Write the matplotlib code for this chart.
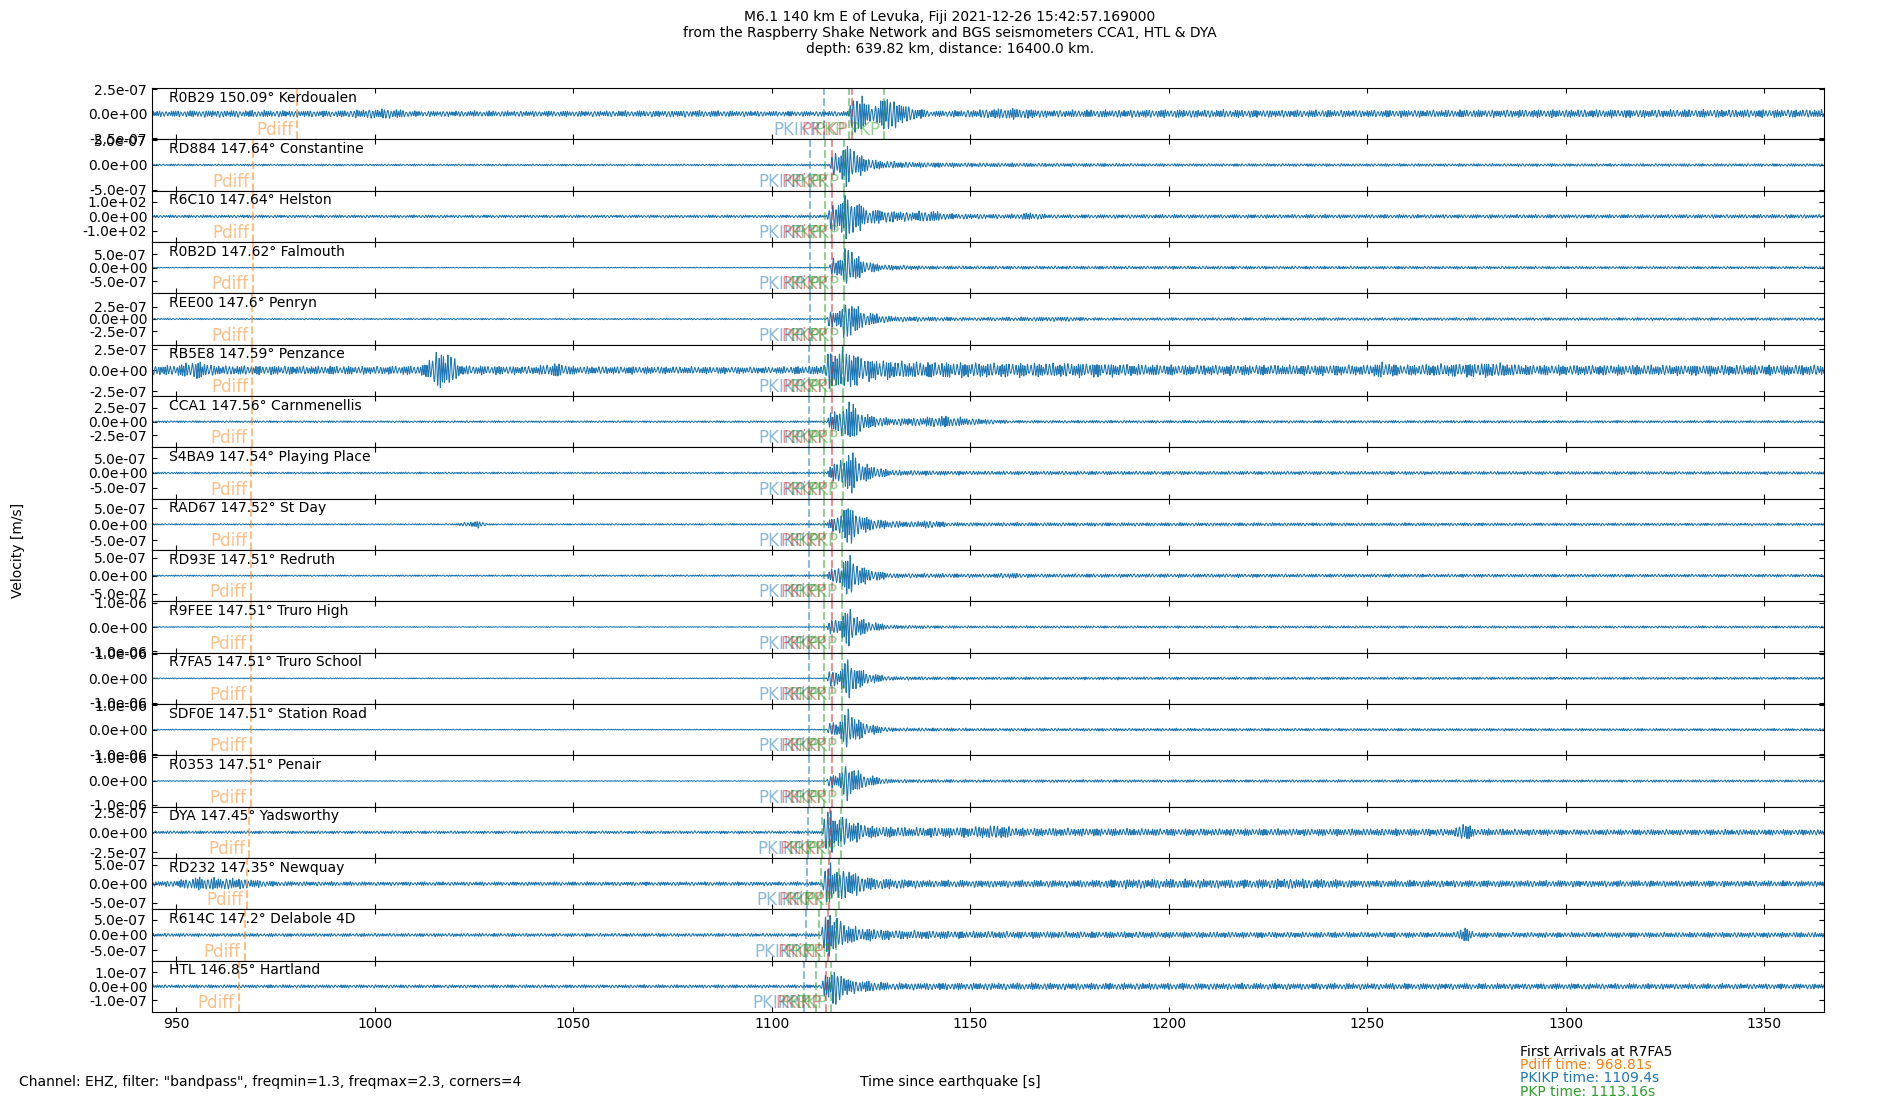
import numpy as np
import matplotlib
matplotlib.use("Agg")
import matplotlib.pyplot as plt

# ---------------- data ----------------
stations = ["R0B29", "RD884", "R6C10", "R0B2D", "REE00", "RB5E8", "CCA1", "S4BA9", "RAD67",
            "RD93E", "R9FEE", "R7FA5", "SDF0E", "R0353", "DYA", "RD232", "R614C", "HTL"]
distances = ["150.09", "147.64", "147.64", "147.62", "147.6", "147.59", "147.56", "147.54", "147.52",
             "147.51", "147.51", "147.51", "147.51", "147.51", "147.45", "147.35", "147.2", "146.85"]
places = ["Kerdoualen", "Constantine", "Helston", "Falmouth", "Penryn", "Penzance", "Carnmenellis",
          "Playing Place", "St Day", "Redruth", "Truro High", "Truro School", "Station Road", "Penair",
          "Yadsworthy", "Newquay", "Delabole 4D", "Hartland"]
y_max = [2.63e-7, 5.2e-7, 175.0, 9.4e-7, 5.2e-7, 3.05e-7, 4.65e-7, 8.85e-7, 8.0e-7,
         7.1e-7, 1.06e-6, 1.05e-6, 1.05e-6, 1.08e-6, 3.22e-7, 6.75e-7, 8.4e-7, 1.85e-7]
y_tick = [2.5e-7, 5e-7, 100.0, 5e-7, 2.5e-7, 2.5e-7, 2.5e-7, 5e-7, 5e-7,
          5e-7, 1e-6, 1e-6, 1e-6, 1e-6, 2.5e-7, 5e-7, 5e-7, 1e-7]
t_pdiff = [980.5, 969.4, 969.4, 969.3, 969.2, 969.2, 969.05, 968.95, 968.85,
           968.81, 968.81, 968.81, 968.81, 968.81, 968.35, 967.9, 967.3, 965.8]
t_pkikp = [1113.3, 1109.6, 1109.6, 1109.55, 1109.55, 1109.5, 1109.5, 1109.45, 1109.4,
           1109.4, 1109.4, 1109.4, 1109.4, 1109.4, 1109.2, 1108.9, 1108.6, 1108.1]
t_pkikp_inner = [1120.3, 1115.3, 1115.3, 1115.25, 1115.25, 1115.2, 1115.2, 1115.15, 1115.1,
                 1115.1, 1115.1, 1115.1, 1115.1, 1115.1, 1114.8, 1114.5, 1114.3, 1113.7]
t_pkp_1 = [1119.6, 1113.5, 1113.5, 1113.45, 1113.4, 1113.4, 1113.3, 1113.25, 1113.2,
           1113.16, 1113.16, 1113.16, 1113.16, 1113.16, 1112.8, 1112.4, 1112.0, 1111.2]
t_pkp_2 = [1128.4, 1118.2, 1118.2, 1118.1, 1118.1, 1118.0, 1117.95, 1117.9, 1117.8,
           1117.7, 1117.7, 1117.7, 1117.7, 1117.7, 1117.4, 1116.9, 1116.3, 1115.0]

# envelope knots (time [s], amplitude as fraction of the panel's y limit)
env_t = [
    [944, 960, 990, 1003, 1010, 1050, 1080, 1100, 1119.5, 1120.5, 1122, 1124, 1127, 1128.5, 1131, 1135, 1140, 1150, 1160, 1170, 1200, 1250, 1300, 1365],
    [944, 1114.5, 1115.5, 1117, 1118.5, 1120, 1123, 1127, 1135, 1150, 1200, 1365],
    [944, 1114, 1114.8, 1117, 1118.5, 1120, 1122, 1124, 1130, 1135, 1140, 1145, 1160, 1165, 1170, 1365],
    [944, 1114.5, 1115.3, 1117.5, 1119, 1120.5, 1123, 1128, 1140, 1365],
    [944, 1113.8, 1114.6, 1117, 1119, 1121, 1124, 1130, 1150, 1175, 1180, 1365],
    [944, 950, 955, 960, 1000, 1012, 1016, 1019, 1022, 1040, 1046, 1050, 1100, 1110, 1113.5, 1114.5, 1116, 1118.5, 1121, 1125, 1135, 1160, 1180, 1200, 1250, 1254, 1258, 1282, 1290, 1365],
    [944, 1114, 1114.8, 1117, 1119.5, 1121.5, 1124, 1130, 1137, 1143, 1150, 1160, 1365],
    [944, 1114, 1114.8, 1117, 1118.8, 1120, 1122, 1125, 1130, 1150, 1365],
    [944, 1020, 1026, 1029, 1113.8, 1114.6, 1117, 1118.8, 1120.5, 1123, 1128, 1135, 1140, 1145, 1365],
    [944, 1113.8, 1114.6, 1117, 1119, 1121, 1124, 1130, 1155, 1160, 1165, 1365],
    [944, 1113.8, 1114.6, 1117, 1119, 1121, 1124, 1130, 1150, 1365],
    [944, 1113.8, 1114.6, 1117, 1119, 1121, 1124, 1130, 1150, 1365],
    [944, 1113.8, 1114.6, 1117, 1119, 1121, 1124, 1130, 1150, 1365],
    [944, 1113.8, 1114.6, 1117, 1119, 1121, 1124, 1130, 1150, 1365],
    [944, 1112.8, 1113.5, 1115, 1116.5, 1118, 1120, 1125, 1135, 1150, 1157, 1162, 1200, 1250, 1272, 1274.5, 1277, 1300, 1365],
    [944, 950, 955, 965, 975, 1000, 1112.8, 1113.5, 1114.5, 1116, 1118, 1121, 1125, 1140, 1180, 1190, 1220, 1230, 1250, 1365],
    [944, 1112.5, 1113.3, 1114.5, 1116.5, 1118, 1122, 1130, 1150, 1200, 1272, 1274.5, 1277, 1365],
    [944, 1112.5, 1113.3, 1114.5, 1115.5, 1117, 1120, 1130, 1365],
]
env_a = [
    [0.12, 0.15, 0.13, 0.22, 0.12, 0.12, 0.14, 0.11, 0.11, 1.0, 0.9, 0.45, 0.4, 0.9, 0.6, 0.3, 0.12, 0.16, 0.24, 0.15, 0.17, 0.15, 0.17, 0.17],
    [0.04, 0.04, 0.55, 0.45, 1.0, 0.8, 0.35, 0.18, 0.12, 0.09, 0.06, 0.06],
    [0.06, 0.06, 0.6, 0.65, 1.0, 0.85, 0.6, 0.35, 0.25, 0.2, 0.25, 0.12, 0.09, 0.16, 0.08, 0.08],
    [0.02, 0.02, 0.45, 0.4, 1.0, 0.7, 0.3, 0.12, 0.07, 0.05],
    [0.03, 0.03, 0.4, 0.35, 1.0, 0.6, 0.3, 0.12, 0.07, 0.1, 0.06, 0.06],
    [0.2, 0.22, 0.4, 0.2, 0.17, 0.2, 0.85, 0.7, 0.2, 0.17, 0.3, 0.17, 0.14, 0.18, 0.22, 1.0, 0.75, 1.0, 0.7, 0.45, 0.35, 0.3, 0.3, 0.22, 0.22, 0.35, 0.22, 0.32, 0.22, 0.22],
    [0.04, 0.04, 0.5, 0.45, 1.0, 0.6, 0.3, 0.15, 0.18, 0.25, 0.15, 0.06, 0.05],
    [0.04, 0.04, 0.4, 0.45, 0.85, 1.0, 0.5, 0.3, 0.12, 0.08, 0.06],
    [0.03, 0.03, 0.15, 0.03, 0.04, 0.3, 0.35, 1.0, 0.7, 0.35, 0.18, 0.12, 0.17, 0.08, 0.05],
    [0.03, 0.04, 0.3, 0.35, 1.0, 0.6, 0.3, 0.1, 0.08, 0.12, 0.08, 0.06],
    [0.02, 0.02, 0.35, 0.3, 0.95, 0.55, 0.25, 0.08, 0.05, 0.05],
    [0.02, 0.02, 0.4, 0.3, 0.95, 0.55, 0.25, 0.08, 0.06, 0.05],
    [0.02, 0.02, 0.3, 0.3, 0.95, 0.55, 0.25, 0.08, 0.06, 0.05],
    [0.02, 0.02, 0.3, 0.3, 0.9, 0.5, 0.25, 0.08, 0.06, 0.05],
    [0.06, 0.06, 0.95, 1.0, 0.6, 0.7, 0.5, 0.25, 0.2, 0.22, 0.3, 0.18, 0.15, 0.15, 0.15, 0.45, 0.15, 0.12, 0.12],
    [0.1, 0.14, 0.28, 0.24, 0.1, 0.08, 0.08, 0.8, 1.0, 0.6, 0.7, 0.5, 0.25, 0.15, 0.15, 0.2, 0.18, 0.22, 0.15, 0.12],
    [0.07, 0.07, 0.9, 1.0, 0.75, 0.5, 0.3, 0.2, 0.15, 0.13, 0.11, 0.35, 0.11, 0.11],
    [0.07, 0.07, 0.55, 0.5, 1.0, 0.6, 0.3, 0.15, 0.11],
]

x_limits = (943.9, 1365.1)
x_ticks = [950, 1000, 1050, 1100, 1150, 1200, 1250, 1300, 1350]
band = (1.3, 2.3)  # Hz, filter band from the caption

phase_names = ["Pdiff", "PKIKP", "PKiKP", "PKP", "PKP"]
phase_colors = ["tab:orange", "tab:blue", "tab:red", "tab:green", "tab:green"]
phase_times = [t_pdiff, t_pkikp, t_pkikp_inner, t_pkp_1, t_pkp_2]

# ---------------- figure ----------------
fig = plt.figure(figsize=(19, 11), dpi=100)
axes = fig.subplots(len(stations), 1, sharex=True, gridspec_kw=dict(hspace=0))
fig.subplots_adjust(left=0.08, right=0.96, bottom=0.08, top=0.92)

t = np.arange(x_limits[0], x_limits[1], 0.02)
f_low = band[0] + 0.2
for i, ax in enumerate(axes):
    k = i * 0.7
    # band-limited carrier (deterministic, frequency wandering inside the filter band)
    ph = 2 * np.pi * (f_low * t + 0.35 * np.sin(2 * np.pi * t / 4.7 + k))
    carrier = np.cos(ph)
    mod = (0.66 + 0.2 * np.sin(2 * np.pi * t / 2.3 + 1.3 * k) * np.sin(2 * np.pi * t / 5.9 + 0.4 * k)
           + 0.14 * np.sin(2 * np.pi * t / 0.93 + 2.1 * k))
    env = np.interp(t, env_t[i], env_a[i])
    trace = env * mod * carrier * y_max[i]
    ax.plot(t, trace, color="tab:blue", lw=0.75)

    ax.set_ylim(-y_max[i], y_max[i])
    ax.set_yticks([-y_tick[i], 0, y_tick[i]])
    ax.yaxis.set_major_formatter(matplotlib.ticker.FormatStrFormatter("%.1e"))
    ax.tick_params(direction="in", top=True, right=True, labelsize=10)
    ax.text(0.01, 0.95, f"{stations[i]} {distances[i]}° {places[i]}",
            transform=ax.transAxes, ha="left", va="top", fontsize=10)
    for name, col, times in zip(phase_names, phase_colors, phase_times):
        ax.axvline(times[i], color=col, ls="--", lw=1.5, alpha=0.5)
        ax.annotate(name, xy=(times[i], 0), xycoords=("data", "axes fraction"),
                    xytext=(-3, 0), textcoords="offset points", ha="right", va="bottom",
                    color=col, alpha=0.5, fontsize=12)

axes[-1].set_xlim(*x_limits)
axes[-1].set_xticks(x_ticks)

fig.suptitle("M6.1 140 km E of Levuka, Fiji 2021-12-26 15:42:57.169000\n"
             "from the Raspberry Shake Network and BGS seismometers CCA1, HTL & DYA\n"
             "depth: 639.82 km, distance: 16400.0 km.", x=0.5, y=0.991, va="top", fontsize=10)
fig.text(0.5, 0.01, "Time since earthquake [s]", ha="center", va="bottom", fontsize=10)
fig.text(0.01, 0.01, 'Channel: EHZ, filter: "bandpass", freqmin=1.3, freqmax=2.3, corners=4',
         ha="left", va="bottom", fontsize=10)
fig.text(0.0095, 0.5, "Velocity [m/s]", rotation=90, ha="center", va="center", fontsize=10)

fig.text(0.8, 0.04, "First Arrivals at R7FA5", color="black", fontsize=10, va="baseline")
fig.text(0.8, 0.028, "Pdiff time: 968.81s", color="tab:orange", fontsize=10, va="baseline")
fig.text(0.8, 0.016, "PKIKP time: 1109.4s", color="tab:blue", fontsize=10, va="baseline")
fig.text(0.8, 0.004, "PKP time: 1113.16s", color="tab:green", fontsize=10, va="baseline")

fig.savefig("out.png", dpi=100)
